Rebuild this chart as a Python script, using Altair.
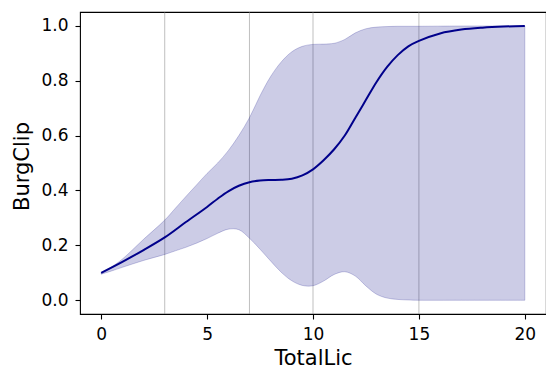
import altair as alt
import pandas as pd

# mean curve
mx = [0, 1, 2, 3, 4, 5, 5.5, 6, 6.5, 7, 7.5, 8, 8.5, 9, 9.5, 10, 10.5, 11, 11.5, 12, 12.5, 13, 13.5, 14, 14.5,
      15, 16, 17, 18, 19, 20]
my = [0.100, 0.140, 0.183, 0.229, 0.285, 0.340, 0.370, 0.397, 0.417, 0.430, 0.436, 0.438, 0.439, 0.443, 0.455,
      0.477, 0.510, 0.550, 0.600, 0.665, 0.730, 0.795, 0.850, 0.893, 0.925, 0.945, 0.972, 0.986, 0.993, 0.997, 0.999]

# band
bx = [0, 0.5, 1, 2, 3, 3.5, 4, 4.5, 5, 5.5, 6, 6.5, 7, 7.5, 8, 8.5, 9, 9.5, 10, 10.5, 11, 11.5, 12, 12.5, 13,
      13.5, 14, 14.5, 15, 17, 20]
upper = [0.100, 0.122, 0.150, 0.222, 0.292, 0.335, 0.378, 0.420, 0.462, 0.500, 0.545, 0.600, 0.665, 0.745, 0.815,
         0.868, 0.905, 0.925, 0.932, 0.933, 0.936, 0.950, 0.974, 0.989, 0.995, 0.997, 0.998, 0.998, 0.998, 0.999,
         0.999]
lower = [0.095, 0.107, 0.120, 0.145, 0.167, 0.180, 0.193, 0.208, 0.225, 0.244, 0.259, 0.257, 0.226, 0.186, 0.143,
         0.102, 0.071, 0.054, 0.053, 0.070, 0.094, 0.104, 0.088, 0.052, 0.022, 0.008, 0.003, 0.001, 0.000, 0.000,
         0.000]

vlines = [3, 7, 10, 15]

mean_df = pd.DataFrame({"TotalLic": mx, "BurgClip": my})
band_df = pd.DataFrame({"TotalLic": bx, "lo": lower, "hi": upper})
vl_df = pd.DataFrame({"TotalLic": vlines})

xscale = alt.Scale(domain=[-1, 21], nice=False, zero=False)
yscale = alt.Scale(domain=[-0.05, 1.05], nice=False, zero=False)

xaxis = alt.Axis(values=[0, 5, 10, 15, 20], format="d", title="TotalLic")
yaxis = alt.Axis(values=[0, 0.2, 0.4, 0.6, 0.8, 1.0], format=".1f", title="BurgClip", titleY=154)

band = alt.Chart(band_df).mark_area(
    fill="#000080", fillOpacity=0.2, stroke="#000080", strokeOpacity=0.2, strokeWidth=1,
    interpolate="catmull-rom"
).encode(
    x=alt.X("TotalLic:Q", scale=xscale, axis=xaxis),
    y=alt.Y("lo:Q", scale=yscale, axis=yaxis),
    y2="hi:Q",
)

rules = alt.Chart(vl_df).mark_rule(color="#808080", opacity=0.5, strokeWidth=1).encode(
    x=alt.X("TotalLic:Q", scale=xscale),
)

line = alt.Chart(mean_df).mark_line(color="#00008B", strokeWidth=2, interpolate="catmull-rom").encode(
    x=alt.X("TotalLic:Q", scale=xscale),
    y=alt.Y("BurgClip:Q", scale=yscale),
)

chart = alt.layer(rules, band, line).properties(
    width=466, height=302, padding={"left": 3, "top": 3, "right": 0, "bottom": 0}
).configure_view(
    stroke="black", strokeWidth=1.1
).configure_axis(
    grid=False,
    domain=False,
    tickColor="black",
    tickSize=5,
    tickWidth=1.1,
    labelFont="DejaVu Sans",
    labelFontSize=17,
    labelColor="black",
    labelPadding=7,
    titleFont="DejaVu Sans",
    titleFontSize=21,
    titleFontWeight="normal",
    titleColor="black",
).configure_axisY(titlePadding=8.5).configure_axisX(titlePadding=5.4)

chart.save("out.html", embed_options={"renderer": "svg", "actions": False})
